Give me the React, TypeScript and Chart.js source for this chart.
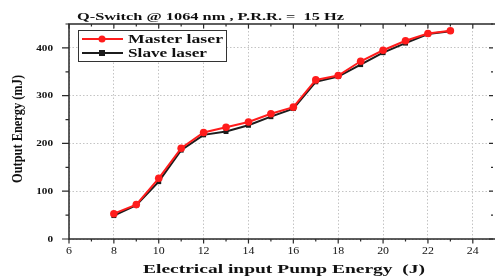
import React, { useEffect, useRef } from "react";
import { Chart, registerables } from "chart.js";

Chart.register(...registerables);

const pumpEnergy = [8, 9, 10, 11, 12, 13, 14, 15, 16, 17, 18, 19, 20, 21, 22, 23];
const masterLaser = [53, 72, 127, 190, 223, 234, 245, 262, 276, 333, 342, 372, 395, 415, 430, 436];
const slaveLaser = [49, 71, 120, 186, 218, 225, 238, 256, 273, 329, 340, 365, 390, 410, 429, 435];
const xTickLabels = ["6", "8", "10", "12", "14", "16", "18", "20", "22", "24"];
const yTickLabels = ["0", "100", "200", "300", "400"];

const titleText = "Q-Switch @ 1064 nm , P.R.R. =  15 Hz";
const xTitle = "Electrical input Pump Energy  (J)";
const yTitle = "Output Energy (mJ)";
const seriesNames = ["Master laser", "Slave laser"];

const RED = "#ff1c1c";
const BLACK = "#1c1c1c";
const INK = "#111111";
const SERIF = '"Liberation Serif", "Times New Roman", serif';

function fitText(
  ctx: CanvasRenderingContext2D,
  text: string,
  font: string,
  left: number,
  right: number,
  baseline: number
) {
  ctx.save();
  ctx.font = font;
  const w = ctx.measureText(text).width;
  const sx = (right - left) / w;
  ctx.translate(left, baseline);
  ctx.scale(sx, 1);
  ctx.textAlign = "left";
  ctx.textBaseline = "alphabetic";
  ctx.fillStyle = INK;
  ctx.fillText(text, 0, 0);
  ctx.restore();
}

function stretchText(
  ctx: CanvasRenderingContext2D,
  text: string,
  font: string,
  x: number,
  y: number,
  sx: number,
  align: CanvasTextAlign,
  base: CanvasTextBaseline
) {
  ctx.save();
  ctx.font = font;
  ctx.translate(x, y);
  ctx.scale(sx, 1);
  ctx.textAlign = align;
  ctx.textBaseline = base;
  ctx.fillStyle = INK;
  ctx.fillText(text, 0, 0);
  ctx.restore();
}

const decorPlugin = {
  id: "decor",
  afterDraw(chart: any) {
    const ctx: CanvasRenderingContext2D = chart.ctx;
    const { left, right, top, bottom } = chart.chartArea;
    const xs = chart.scales.x;
    const ys = chart.scales.y;

    // frame (right side falls at the canvas edge)
    ctx.save();
    ctx.strokeStyle = "#2a2a2a";
    ctx.lineWidth = 1.5;
    ctx.beginPath();
    ctx.moveTo(right + 2, top);
    ctx.lineTo(left, top);
    ctx.lineTo(left, bottom);
    ctx.lineTo(right + 2, bottom);
    ctx.stroke();

    // x ticks
    ctx.lineWidth = 1.2;
    for (let v = 6; v <= 24; v += 1) {
      const px = xs.getPixelForValue(v);
      const major = v % 2 === 0;
      const len = major ? 4.5 : 2.5;
      ctx.beginPath();
      ctx.moveTo(px, bottom);
      ctx.lineTo(px, bottom + len);
      ctx.moveTo(px, top);
      ctx.lineTo(px, top + len);
      ctx.stroke();
    }
    // y ticks
    for (let v = 0; v <= 450; v += 50) {
      const py = ys.getPixelForValue(v);
      const major = v % 100 === 0;
      ctx.beginPath();
      ctx.moveTo(left, py);
      ctx.lineTo(left - (major ? 7 : 3.5), py);
      ctx.moveTo(right, py);
      ctx.lineTo(right - (major ? 4 : 2), py);
      ctx.stroke();
    }
    ctx.restore();

    // tick labels
    xTickLabels.forEach((t) => {
      const px = xs.getPixelForValue(Number(t));
      stretchText(ctx, t, `9.5px ${SERIF}`, px, 254, 1.25, "center", "alphabetic");
    });
    yTickLabels.forEach((t) => {
      const py = ys.getPixelForValue(Number(t));
      stretchText(ctx, t, `bold 8px ${SERIF}`, 53, py + 2.8, 1.4, "right", "alphabetic");
    });

    // title
    fitText(ctx, titleText, `bold 11px ${SERIF}`, 77, 344, 19.5);
    // x title
    fitText(ctx, xTitle, `bold 13px ${SERIF}`, 143, 425, 273);
    // y title (rotated)
    ctx.save();
    ctx.font = `bold 14px ${SERIF}`;
    const w = ctx.measureText(yTitle).width;
    const sx = 108 / w;
    ctx.translate(22, 129);
    ctx.rotate(-Math.PI / 2);
    ctx.scale(sx, 1);
    ctx.textAlign = "center";
    ctx.textBaseline = "alphabetic";
    ctx.fillStyle = INK;
    ctx.fillText(yTitle, 0, 0);
    ctx.restore();

    // legend
    ctx.save();
    ctx.fillStyle = "#ffffff";
    ctx.fillRect(78.5, 30.5, 148, 31);
    ctx.strokeStyle = "#333333";
    ctx.lineWidth = 1;
    ctx.strokeRect(78.5, 30.5, 148, 31);
    ctx.strokeStyle = RED;
    ctx.lineWidth = 2;
    ctx.beginPath();
    ctx.moveTo(82, 39);
    ctx.lineTo(123, 39);
    ctx.stroke();
    ctx.fillStyle = RED;
    ctx.beginPath();
    ctx.arc(102, 39, 3.5, 0, Math.PI * 2);
    ctx.fill();
    ctx.strokeStyle = BLACK;
    ctx.beginPath();
    ctx.moveTo(82, 53);
    ctx.lineTo(123, 53);
    ctx.stroke();
    ctx.fillStyle = BLACK;
    ctx.fillRect(99, 50, 6, 6);
    ctx.restore();
    fitText(ctx, seriesNames[0], `bold 12px ${SERIF}`, 128, 223, 43);
    fitText(ctx, seriesNames[1], `bold 12px ${SERIF}`, 128, 207, 57);
  },
};

export default function App() {
  const ref = useRef<HTMLCanvasElement | null>(null);
  useEffect(() => {
    document.body.style.margin = "0";
    if (!ref.current) return;
    const chart = new Chart(ref.current, {
      type: "line",
      data: {
        datasets: [
          {
            label: seriesNames[0],
            data: pumpEnergy.map((x, i) => ({ x, y: masterLaser[i] })),
            borderColor: RED,
            backgroundColor: RED,
            borderWidth: 2,
            pointStyle: "circle",
            pointRadius: 3.8,
            pointBorderWidth: 0,
            tension: 0,
          },
          {
            label: seriesNames[1],
            data: pumpEnergy.map((x, i) => ({ x, y: slaveLaser[i] })),
            borderColor: BLACK,
            backgroundColor: BLACK,
            borderWidth: 2,
            pointStyle: "rect",
            pointRadius: 3.5,
            pointBorderWidth: 0,
            tension: 0,
          },
        ],
      },
      options: {
        responsive: false,
        animation: false,
        layout: { padding: { left: 69, top: 24, right: 0, bottom: 38 } },
        plugins: {
          legend: { display: false },
          title: { display: false },
          tooltip: { enabled: false },
        },
        scales: {
          x: {
            type: "linear",
            min: 6,
            max: 24.9,
            ticks: { display: false, stepSize: 2, includeBounds: false },
            grid: { color: "#c4c4c4", lineWidth: 1, drawTicks: false },
            border: { display: false, dash: [1.5, 2] },
          },
          y: {
            type: "linear",
            min: 0,
            max: 450,
            ticks: { display: false, stepSize: 100, includeBounds: false },
            grid: { color: "#c4c4c4", lineWidth: 1, drawTicks: false },
            border: { display: false, dash: [1.5, 2] },
          },
        },
      },
      plugins: [decorPlugin],
    });
    return () => chart.destroy();
  }, []);
  return <canvas ref={ref} width={497} height={277} style={{ display: "block" }} />;
}
